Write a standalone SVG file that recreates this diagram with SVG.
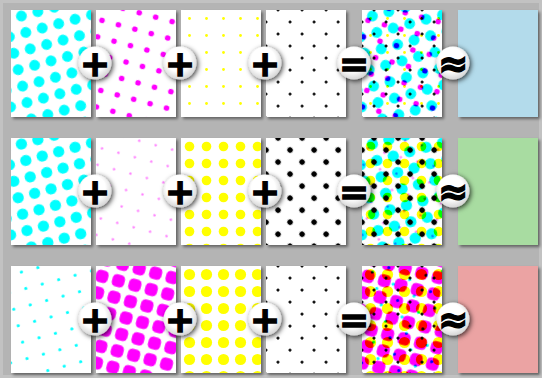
<svg xmlns="http://www.w3.org/2000/svg" width="542" height="378" viewBox="0 0 542 378">
<style>
.base{fill:#fff;filter:url(#tsh)}
.mul{mix-blend-mode:multiply}
.op circle{fill:url(#opg);filter:url(#osh)}
.op text{font-family:"DejaVu Sans",sans-serif;font-weight:bold;font-size:36px;text-anchor:middle;fill:#000;stroke:#000;stroke-width:1.4}
</style>
<defs>
<filter id="tsh" x="-10%" y="-10%" width="125%" height="125%"><feDropShadow dx="2" dy="2" stdDeviation="1.5" flood-color="#000" flood-opacity="0.45"/></filter>
<filter id="osh" x="-50%" y="-50%" width="200%" height="200%"><feDropShadow dx="1.5" dy="1.5" stdDeviation="2.5" flood-color="#000" flood-opacity="0.75"/></filter>
<radialGradient id="opg" cx="0.45" cy="0.4" r="0.6"><stop offset="0.6" stop-color="#fff"/><stop offset="1" stop-color="#d6d6d6"/></radialGradient>
<!-- row 1 screens -->
<pattern id="c1" width="17" height="17" patternUnits="userSpaceOnUse" patternTransform="rotate(-15)"><circle cx="8.5" cy="8.5" r="5.4" fill="#00ffff"/></pattern>
<pattern id="m1" width="17" height="17" patternUnits="userSpaceOnUse" patternTransform="rotate(15)"><circle cx="8.5" cy="8.5" r="2.8" fill="#ff00ff"/></pattern>
<pattern id="y1" width="17" height="17" patternUnits="userSpaceOnUse"><circle cx="8.5" cy="8.5" r="1.4" fill="#ffff00"/></pattern>
<pattern id="k1" width="17" height="17" patternUnits="userSpaceOnUse" patternTransform="rotate(45)"><circle cx="8.5" cy="8.5" r="1.4" fill="#000"/></pattern>
<!-- row 2 screens -->
<pattern id="c2" width="17" height="17" patternUnits="userSpaceOnUse" patternTransform="rotate(-15)"><circle cx="8.5" cy="8.5" r="5.6" fill="#00ffff"/></pattern>
<pattern id="m2" width="17" height="17" patternUnits="userSpaceOnUse" patternTransform="rotate(15)"><circle cx="8.5" cy="8.5" r="1.2" fill="#ff80ff"/></pattern>
<pattern id="y2" width="17" height="17" patternUnits="userSpaceOnUse"><circle cx="8.5" cy="8.5" r="4.8" fill="#ffff00"/></pattern>
<pattern id="k2" width="17" height="17" patternUnits="userSpaceOnUse" patternTransform="rotate(45)"><circle cx="8.5" cy="8.5" r="2.8" fill="#000"/></pattern>
<!-- row 3 screens -->
<pattern id="c3" width="17" height="17" patternUnits="userSpaceOnUse" patternTransform="rotate(-15)"><circle cx="8.5" cy="8.5" r="1.6" fill="#00ffff"/></pattern>
<pattern id="m3" width="17" height="17" patternUnits="userSpaceOnUse" patternTransform="rotate(15)"><rect x="2.2" y="2.2" width="12.6" height="12.6" rx="4.5" fill="#ff00ff"/></pattern>
<pattern id="y3" width="17" height="17" patternUnits="userSpaceOnUse"><circle cx="8.5" cy="8.5" r="5.6" fill="#ffff00"/></pattern>
<pattern id="k3" width="17" height="17" patternUnits="userSpaceOnUse" patternTransform="rotate(45)"><circle cx="8.5" cy="8.5" r="1.5" fill="#000"/></pattern>
</defs>

<rect width="542" height="378" fill="#b4b4b4"/>
<rect x="1.5" y="1.5" width="539" height="375" fill="none" stroke="#c2c2c2" stroke-width="3"/>

<!-- Row 1 -->
<g id="r1-cyan" transform="translate(11,10)"><rect class="base" width="80" height="107"/><rect width="80" height="107" fill="url(#c1)"/></g>
<g id="r1-magenta" transform="translate(96,10)"><rect class="base" width="80" height="107"/><rect width="80" height="107" fill="url(#m1)"/></g>
<g id="r1-yellow" transform="translate(181,10)"><rect class="base" width="80" height="107"/><rect width="80" height="107" fill="url(#y1)"/></g>
<g id="r1-black" transform="translate(266,10)"><rect class="base" width="80" height="107"/><rect width="80" height="107" fill="url(#k1)"/></g>
<g id="r1-sum" transform="translate(362,10)"><rect class="base" width="80" height="107"/><g style="isolation:isolate"><rect width="80" height="107" fill="#fff"/><rect class="mul" width="80" height="107" fill="url(#c1)"/><rect class="mul" width="80" height="107" fill="url(#m1)"/><rect class="mul" width="80" height="107" fill="url(#y1)"/><rect class="mul" width="80" height="107" fill="url(#k1)"/></g></g>
<g id="r1-colour" transform="translate(458,10)"><rect class="base" width="80" height="107" style="fill:#b3dbeb"/></g>

<!-- Row 2 -->
<g id="r2-cyan" transform="translate(11,138)"><rect class="base" width="80" height="107"/><rect width="80" height="107" fill="url(#c2)"/></g>
<g id="r2-magenta" transform="translate(96,138)"><rect class="base" width="80" height="107"/><rect width="80" height="107" fill="url(#m2)"/></g>
<g id="r2-yellow" transform="translate(181,138)"><rect class="base" width="80" height="107"/><rect width="80" height="107" fill="url(#y2)"/></g>
<g id="r2-black" transform="translate(266,138)"><rect class="base" width="80" height="107"/><rect width="80" height="107" fill="url(#k2)"/></g>
<g id="r2-sum" transform="translate(362,138)"><rect class="base" width="80" height="107"/><g style="isolation:isolate"><rect width="80" height="107" fill="#fff"/><rect class="mul" width="80" height="107" fill="url(#c2)"/><rect class="mul" width="80" height="107" fill="url(#m2)"/><rect class="mul" width="80" height="107" fill="url(#y2)"/><rect class="mul" width="80" height="107" fill="url(#k2)"/></g></g>
<g id="r2-colour" transform="translate(458,138)"><rect class="base" width="80" height="107" style="fill:#a8dca1"/></g>

<!-- Row 3 -->
<g id="r3-cyan" transform="translate(11,266)"><rect class="base" width="80" height="107"/><rect width="80" height="107" fill="url(#c3)"/></g>
<g id="r3-magenta" transform="translate(96,266)"><rect class="base" width="80" height="107"/><rect width="80" height="107" fill="url(#m3)"/></g>
<g id="r3-yellow" transform="translate(181,266)"><rect class="base" width="80" height="107"/><rect width="80" height="107" fill="url(#y3)"/></g>
<g id="r3-black" transform="translate(266,266)"><rect class="base" width="80" height="107"/><rect width="80" height="107" fill="url(#k3)"/></g>
<g id="r3-sum" transform="translate(362,266)"><rect class="base" width="80" height="107"/><g style="isolation:isolate"><rect width="80" height="107" fill="#fff"/><rect class="mul" width="80" height="107" fill="url(#c3)"/><rect class="mul" width="80" height="107" fill="url(#m3)"/><rect class="mul" width="80" height="107" fill="url(#y3)"/><rect class="mul" width="80" height="107" fill="url(#k3)"/></g></g>
<g id="r3-colour" transform="translate(458,266)"><rect class="base" width="80" height="107" style="fill:#eba3a3"/></g>

<!-- Operators -->
<g id="operators" class="op">
<g transform="translate(0,63)">
<circle cx="95" cy="0" r="16.5"/><text x="95" y="12.5">+</text>
<circle cx="180" cy="0" r="16.5"/><text x="180" y="12.5">+</text>
<circle cx="265" cy="0" r="16.5"/><text x="265" y="12.5">+</text>
<circle cx="354" cy="0" r="16.5"/><text x="354" y="12.5">=</text>
<circle cx="453" cy="0" r="16.5"/><text x="453" y="12.5">≈</text>
</g>
<g transform="translate(0,191)">
<circle cx="95" cy="0" r="16.5"/><text x="95" y="12.5">+</text>
<circle cx="180" cy="0" r="16.5"/><text x="180" y="12.5">+</text>
<circle cx="265" cy="0" r="16.5"/><text x="265" y="12.5">+</text>
<circle cx="354" cy="0" r="16.5"/><text x="354" y="12.5">=</text>
<circle cx="453" cy="0" r="16.5"/><text x="453" y="12.5">≈</text>
</g>
<g transform="translate(0,319)">
<circle cx="95" cy="0" r="16.5"/><text x="95" y="12.5">+</text>
<circle cx="180" cy="0" r="16.5"/><text x="180" y="12.5">+</text>
<circle cx="265" cy="0" r="16.5"/><text x="265" y="12.5">+</text>
<circle cx="354" cy="0" r="16.5"/><text x="354" y="12.5">=</text>
<circle cx="453" cy="0" r="16.5"/><text x="453" y="12.5">≈</text>
</g>
</g>
</svg>
